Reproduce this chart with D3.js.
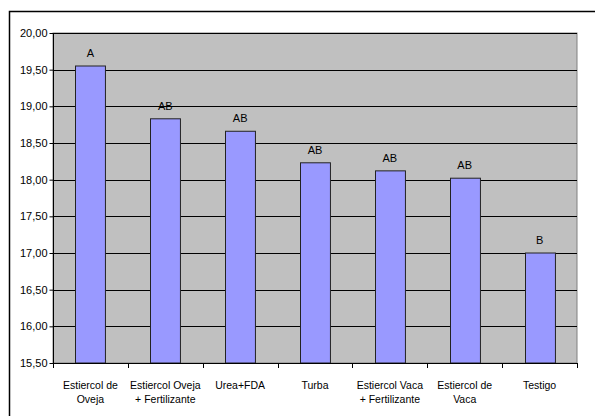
<!DOCTYPE html>
<html>
<head>
<meta charset="utf-8">
<script src="https://cdn.jsdelivr.net/npm/d3@7"></script>
<style>
  html, body { margin: 0; padding: 0; background: #fff; }
  svg { display: block; font-family: "Liberation Sans", Arial, sans-serif; }
</style>
</head>
<body>
<svg id="chart" width="595" height="416"></svg>
<script>
// Treatments (two-line category labels)
const categories = [
  ["Estiercol de", "Oveja"],
  ["Estiercol Oveja", "+ Fertilizante"],
  ["Urea+FDA"],
  ["Turba"],
  ["Estiercol Vaca", "+ Fertilizante"],
  ["Estiercol de", "Vaca"],
  ["Testigo"]
];
const values = [19.55, 18.83, 18.66, 18.23, 18.12, 18.02, 17.00];
const groups = ["A", "AB", "AB", "AB", "AB", "AB", "B"];
const yTicks = [15.5, 16, 16.5, 17, 17.5, 18, 18.5, 19, 19.5, 20];

const svg = d3.select("#chart");
const plot = { left: 53, top: 33, right: 577, bottom: 363 };

// Outer chart frame
svg.append("rect")
  .attr("x", 9.5).attr("y", 11.5)
  .attr("width", 600).attr("height", 420)
  .attr("fill", "#fff").attr("stroke", "#000").attr("stroke-width", 1.5);

const x = d3.scaleBand()
  .domain(d3.range(categories.length))
  .range([plot.left, plot.right])
  .paddingInner(0.6).paddingOuter(0.3);

const xCat = d3.scaleBand()
  .domain(d3.range(categories.length))
  .range([plot.left, plot.right]);

const y = d3.scaleLinear().domain([15.5, 20]).range([plot.bottom, plot.top]);

// Plot area
svg.append("rect")
  .attr("x", plot.left).attr("y", plot.top)
  .attr("width", plot.right - plot.left).attr("height", plot.bottom - plot.top)
  .attr("fill", "#C0C0C0").attr("stroke", "#808080").attr("stroke-width", 1);

// Gridlines
svg.append("g").selectAll("line")
  .data(yTicks.filter(t => t > 15.5))
  .join("line")
  .attr("x1", plot.left).attr("x2", plot.right)
  .attr("y1", d => Math.round(y(d)) + 0.5).attr("y2", d => Math.round(y(d)) + 0.5)
  .attr("stroke", "#000").attr("stroke-width", 1);

// Y axis
const yAxis = svg.append("g")
  .attr("transform", `translate(${plot.left + 0.5},0)`)
  .call(d3.axisLeft(y).tickValues(yTicks).tickSize(4).tickPadding(2)
    .tickFormat(d => d3.format(".2f")(d).replace(".", ",")));
yAxis.select(".domain").attr("stroke", "#000").attr("d", `M0,${plot.top}V${plot.bottom}`);
yAxis.selectAll(".tick line").attr("stroke", "#000");
yAxis.selectAll(".tick text")
  .attr("fill", "#000").style("font-size", "11px")
  .style("font-family", "'Liberation Sans', Arial, sans-serif");

// Bars
svg.append("g").selectAll("rect")
  .data(values)
  .join("rect")
  .attr("x", (d, i) => Math.round(x(i)) + 0.5)
  .attr("y", d => y(d))
  .attr("width", x.bandwidth())
  .attr("height", d => plot.bottom - y(d))
  .attr("fill", "#9999FF").attr("stroke", "#222").attr("stroke-width", 1);

// Group letters
svg.append("g").selectAll("text")
  .data(values)
  .join("text")
  .attr("x", (d, i) => x(i) + x.bandwidth() / 2)
  .attr("y", d => y(d) - 9)
  .attr("text-anchor", "middle")
  .attr("fill", "#000").style("font-size", "11px")
  .text((d, i) => groups[i]);

// X axis line and ticks at category boundaries
svg.append("line")
  .attr("x1", plot.left).attr("x2", plot.right)
  .attr("y1", plot.bottom + 0.5).attr("y2", plot.bottom + 0.5)
  .attr("stroke", "#000");
svg.append("g").selectAll("line")
  .data(d3.range(categories.length + 1))
  .join("line")
  .attr("x1", i => Math.round(plot.left + i * xCat.bandwidth()) + 0.5)
  .attr("x2", i => Math.round(plot.left + i * xCat.bandwidth()) + 0.5)
  .attr("y1", plot.bottom).attr("y2", plot.bottom + 5)
  .attr("stroke", "#000");

// Category labels
const cat = svg.append("g").selectAll("text")
  .data(categories)
  .join("text")
  .attr("text-anchor", "middle")
  .attr("fill", "#000").style("font-size", "10.5px");
cat.each(function(lines, i) {
  const t = d3.select(this);
  lines.forEach((ln, k) => {
    t.append("tspan")
      .attr("x", xCat(i) + xCat.bandwidth() / 2)
      .attr("y", 389 + k * 14)
      .text(ln);
  });
});
</script>
</body>
</html>
